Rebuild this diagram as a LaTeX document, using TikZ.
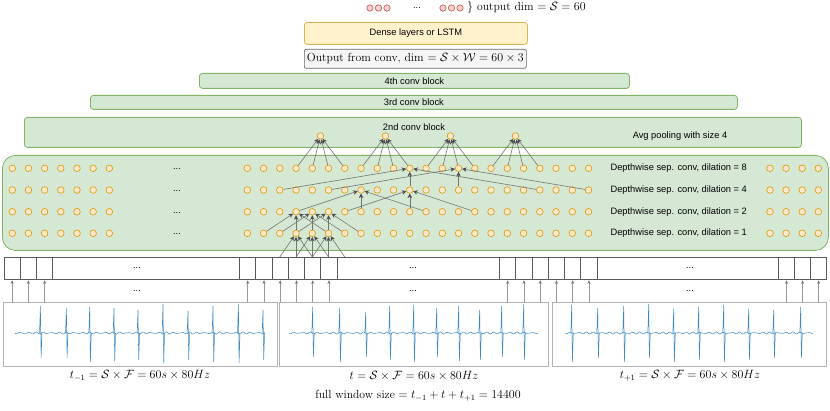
\documentclass[tikz,border=0pt]{standalone}
\usepackage{fontspec}
\newfontfamily\lsans{Liberation Sans}
\usetikzlibrary{arrows.meta}
\definecolor{orngB}{HTML}{D79B00}
\definecolor{orngF}{HTML}{FFE6CC}
\definecolor{grnB}{HTML}{82B366}
\definecolor{grnF}{HTML}{D5E8D4}
\definecolor{ylwB}{HTML}{D6B656}
\definecolor{ylwF}{HTML}{FFF2CC}
\definecolor{redB}{HTML}{B85450}
\definecolor{redF}{HTML}{F8CECC}
\definecolor{grayB}{HTML}{666666}
\definecolor{grayF}{HTML}{F5F5F5}
\definecolor{ecgC}{HTML}{3A88C4}
\begin{document}
\begin{tikzpicture}[x=1pt,y=-1pt,
  neuron/.style={circle, draw=orngB, fill=orngF, line width=0.6pt, minimum size=6.6pt, inner sep=0pt},
  outn/.style={circle, draw=redB, fill=redF, line width=0.6pt, minimum size=6.4pt, inner sep=0pt},
  gbox/.style={draw=grnB, fill=grnF, line width=0.8pt, rounded corners=3pt, anchor=north west, inner sep=0pt},
  sans/.style={font=\lsans\fontsize{9.3}{11}\selectfont},
  mtxt/.style={font=\fontsize{11.7}{13}\selectfont},
  conn/.style={draw=black!55, line width=0.6pt, -{Stealth[length=4.5pt,width=4.5pt,color=black!70]}},
  inarr/.style={draw=black!40, line width=0.7pt, -{Stealth[length=3.5pt,width=3pt,color=black!55]}},
  cell/.style={draw=black!65, line width=0.8pt, anchor=north west, minimum height=22.5pt, inner sep=0pt},
  wbox/.style={draw=black!30, line width=0.9pt, anchor=north west, inner sep=0pt, minimum height=64pt},
  ecg/.style={draw=ecgC, line width=0.5pt, line join=round}
]
\useasboundingbox (0,0) rectangle (830,411);

% ---------- top output ----------
\node[outn] (o1) at (370,8) {};
\node[outn] (o2) at (378.5,8) {};
\node[outn] (o3) at (387,8) {};
\node[sans] (odots) at (417,8) {...};
\node[outn] (o4) at (443,8) {};
\node[outn] (o5) at (451.5,8) {};
\node[outn] (o6) at (460,8) {};
\node[mtxt, anchor=west, inner sep=0pt] (odim) at (467,8) {$\}$ output dim $=\mathcal{S}=60$};

% ---------- stacked boxes ----------
\node[draw=ylwB, fill=ylwF, line width=0.8pt, rounded corners=3pt, anchor=north west, inner sep=0pt,
      minimum width=223pt, minimum height=22pt] (dense) at (304,22) {};
\node[sans] at (dense.center) {Dense layers or LSTM};
\node[draw=grayB, fill=grayF, line width=0.7pt, rounded corners=2pt, anchor=north west, inner sep=0pt,
      minimum width=222pt, minimum height=19pt] (outconv) at (304,49) {};
\node[mtxt] at (outconv.center) {Output from conv, dim $=\mathcal{S}\times\mathcal{W}=60\times3$};
\node[gbox, minimum width=430pt, minimum height=15pt] (c4) at (199,73) {};
\node[sans] at (c4.center) {4th conv block};
\node[gbox, minimum width=647pt, minimum height=14pt] (c3) at (90,95) {};
\node[sans] at (c3.center) {3rd conv block};
\node[gbox, minimum width=777pt, minimum height=30pt] (c2) at (24,117) {};
\node[sans] (c2lab) at (414,127) {2nd conv block};
\node[sans] (avglab) at (680,136) {Avg pooling with size 4};
\node[gbox, rounded corners=13pt, minimum width=826pt, minimum height=95pt] (dsc) at (2,155) {};

% ---------- neurons ----------
\foreach \r/\yy/\dil in {1/233.3/1,2/211.7/2,3/190/4,4/168.3/8}{
  \foreach \k in {0,...,6}{\node[neuron] (L\r-\k) at ({12.3+16.17*\k},\yy) {};}
  \foreach \i in {0,...,21}{\node[neuron] (M\r-\i) at ({247.3+16.25*\i},\yy) {};}
  \foreach \k in {0,...,3}{\node[neuron] (R\r-\k) at ({770+16.1*\k},\yy) {};}
  \node[sans] (D\r) at (177,{\yy+1}) {...};
  \node[sans, anchor=west] (lab\r) at (607,\yy) {Depthwise sep. conv, dilation = \dil};
}
\foreach \j in {0,...,3}{\node[neuron] (P\j) at ({247.3+16.25*(4.5+4*\j)},136) {};}

% ---------- input cells ----------
\foreach \k in {0,1,2}{\node[cell, minimum width=16.25pt] (CL\k) at ({3.6+16.25*\k},257) {};}
\node[cell, minimum width=186.85pt] (BA) at (52.35,257) {};
\foreach \n in {0,...,5}{\node[cell, minimum width=16.25pt] (CM\n) at ({239.2+16.25*\n},257) {};}
\node[cell, minimum width=162.5pt] (BB) at (336.7,257) {};
\foreach \n in {16,...,21}{\node[cell, minimum width=16.25pt] (CM\n) at ({239.2+16.25*\n},257) {};}
\node[cell, minimum width=181.3pt] (BC) at (596.7,257) {};
\foreach \k in {1,2,3}{\node[cell, minimum width=16.1pt] (CR\k) at ({778+16.1*(\k-1)},257) {};}
\node[sans] (bd1) at (137,268.5) {...};
\node[sans] (bd2) at (413,268.5) {...};
\node[sans] (bd3) at (690,268.5) {...};
\node[sans] (ad1) at (137,291.5) {...};
\node[sans] (ad2) at (413,291.5) {...};
\node[sans] (ad3) at (690,291.5) {...};
\foreach \i in {2,...,6}{\coordinate (I\i) at (M1-\i |- CM0.north);}

% ---------- connections ----------
\foreach \t in {3,4,5}{\foreach \d in {-1,0,1}{\pgfmathtruncatemacro\s{\t+\d}\draw[conn] (I\s) -- (M1-\t);}}
\foreach \t in {3,4,5}{\foreach \d in {-2,0,2}{\pgfmathtruncatemacro\s{\t+\d}\draw[conn] (M1-\s) -- (M2-\t);}}
\foreach \t in {7,10}{\foreach \d in {-4,0,4}{\pgfmathtruncatemacro\s{\t+\d}\draw[conn] (M2-\s) -- (M3-\t);}}
\foreach \t in {10,13}{\foreach \d in {-8,0,8}{\pgfmathtruncatemacro\s{\t+\d}\draw[conn] (M3-\s) -- (M4-\t);}}
\foreach \j in {0,...,3}{\foreach \d in {3,...,6}{\pgfmathtruncatemacro\s{4*\j+\d}\draw[conn] (M4-\s) -- (P\j);}}

% ---------- waveform boxes ----------
\node[wbox, minimum width=274pt] (W1) at (3,302) {};
\node[wbox, minimum width=269pt] (W2) at (279,302) {};
\node[wbox, minimum width=274pt] (W3) at (552,302) {};

\foreach \k in {0,1,2}{\draw[inarr] (CL\k.south |- W1.north) -- (CL\k.south);}
\foreach \n in {0,1}{\draw[inarr] (CM\n.south |- W1.north) -- (CM\n.south);}
\foreach \n in {2,3,4,5,16,17,18}{\draw[inarr] (CM\n.south |- W2.north) -- (CM\n.south);}
\foreach \n in {19,20,21}{\draw[inarr] (CM\n.south |- W3.north) -- (CM\n.south);}
\foreach \k in {1,2,3}{\draw[inarr] (CR\k.south |- W3.north) -- (CR\k.south);}

% ---------- ECG signals ----------
\foreach \xo/\len in {15/250, 289/249, 565/248}{
  \draw[ecg] plot[domain=0:\len, samples=\len] ({\xo+\x},{333+0.7*sin(\x*47)+0.45*sin(\x*61+40)});
}
\foreach \s/\u/\v in {40.7/306/358, 66.7/308/358, 90/307/362, 114.3/308/361, 138.3/310/360,
  163.3/304/363, 188.3/311/360, 213.3/306/362, 238.7/304/363, 263.3/310/360,
  313/307/357, 340/308/362, 366/312/357, 390/306/360, 414/305/362,
  437/308/357, 459/306/361, 480/310/360, 502/306/357, 524/304/360,
  572/305/362, 598/308/358, 624/306/362, 649/304/358, 674/309/362,
  699/307/360, 724/305/362, 749/309/360, 774/310/358, 801/307/358}{
  \draw[ecg] ({\s-1.2},333.5) -- ({\s-0.3},\u) -- ({\s+0.4},\v) -- ({\s+1.3},333);
}

% ---------- labels ----------
\node[mtxt] (t1) at (140,376) {$t_{-1}=\mathcal{S}\times\mathcal{F}=60s\times80Hz$};
\node[mtxt] (t2) at (414,376) {$t=\mathcal{S}\times\mathcal{F}=60s\times80Hz$};
\node[mtxt] (t3) at (690,376) {$t_{+1}=\mathcal{S}\times\mathcal{F}=60s\times80Hz$};
\node[mtxt] (fw) at (418,396) {full window size $=t_{-1}+t+t_{+1}=14400$};
\end{tikzpicture}
\end{document}
